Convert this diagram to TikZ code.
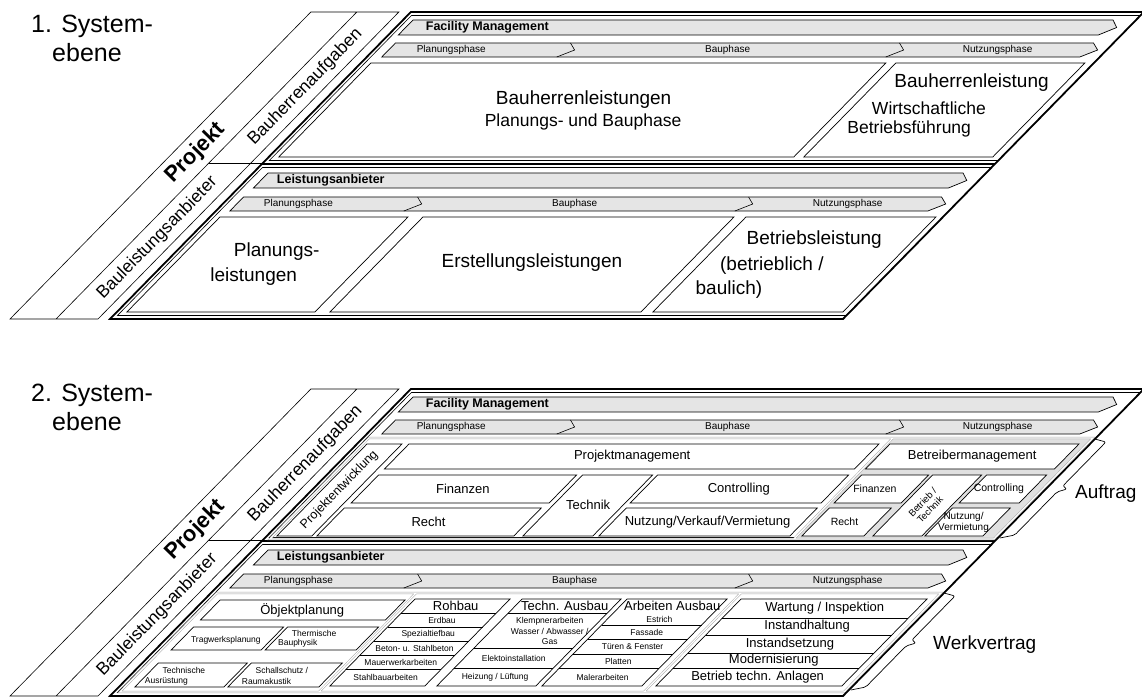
\documentclass[tikz,border=0pt]{standalone}
\usepackage{fontspec}
\setmainfont{Liberation Sans}
\usetikzlibrary{positioning}

\begin{document}
\begin{tikzpicture}[x=1pt, y=1pt, every node/.style={inner sep=0pt},
  frame/.style={line width=1.8pt},
  thin/.style={line width=0.6pt},
  band/.style={draw, fill=black!10, line width=0.7pt},
  cell/.style={draw, fill=white, line width=0.7pt},
  grp/.style={draw=black!35, double=white, double distance=1.2pt, line width=0.5pt},
  brace/.style={line width=0.7pt, rounded corners=2pt},
  ttl/.style={font=\fontsize{25}{29}\selectfont, align=left},
  sidebold/.style={font=\fontsize{22}{24}\selectfont\bfseries, rotate=45.6},
  side/.style={font=\fontsize{17.5}{20}\selectfont, rotate=45.6},
  head/.style={font=\fontsize{12.5}{14}\selectfont\bfseries},
  phase/.style={font=\fontsize{10}{12}\selectfont},
  big/.style={font=\fontsize{19}{22}\selectfont},
  med/.style={font=\fontsize{17.5}{20}\selectfont},
  lbl/.style={font=\fontsize{13}{15}\selectfont},
  small/.style={font=\fontsize{10.5}{11.5}\selectfont, align=center},
  tiny/.style={font=\fontsize{8.5}{10}\selectfont, align=center}]
\useasboundingbox (0,0) rectangle (1142,697);

\node[ttl, anchor=north west] (sys1) at (31,682) {1. System-\\\hspace*{21pt}ebene};
\node[ttl, anchor=north west] (sys2) at (31,313) {2. System-\\\hspace*{21pt}ebene};

% common frame of both levels
\foreach \p/\oy in {1/378, 2/1} {
\begin{scope}[shift={(0,\oy)}, xslant=0.98]
  \draw[thin] (10,0) rectangle (56,307) (56,0) rectangle (98,307);
  \draw[thin] (56,156) -- (110,156);
  \draw[thin] (114,158.5) rectangle (843,303.5) (114,3.5) rectangle (843,151.5);
  \draw[frame] (110,0) rectangle (843,307);
  \draw[frame] (110,155) -- (843,155);
  \draw[band] (120,284) -- (820,284) -- (831,291.5) -- (820,299) -- (120,299) -- cycle;
  \draw[band] (125,262) -- (823,262) -- (834,269) -- (823,276) -- (125,276) -- cycle;
  \draw[band] (125,131) -- (820,131) -- (831,138.5) -- (820,146) -- (125,146) -- cycle;
  \draw[band] (124,108) -- (822,108) -- (833,115) -- (822,122) -- (124,122) -- cycle;
  \draw[thin] (300,276) -- (311,269) -- (300,262) (629,276) -- (640,269) -- (629,262);
  \draw[thin] (298,122) -- (309,115) -- (298,108) (629,122) -- (640,115) -- (629,108);
  \node[sidebold] (proj\p) at (33,166) {Projekt};
  \node[side] (bha\p) at (78,232) {Bauherrenaufgaben};
  \node[side] (bla\p) at (78,81) {Bauleistungsanbieter};
  \node[head, anchor=west] (fm\p) at (140,291.5) {Facility Management};
  \node[phase, anchor=west] (pp\p) at (153,269) {Planungsphase};
  \node[phase] (bp\p) at (464,269) {Bauphase};
  \node[phase] (np\p) at (734,269) {Nutzungsphase};
  \node[head, anchor=west] (la\p) at (141,138.5) {Leistungsanbieter};
  \node[phase, anchor=west] (pq\p) at (151,115) {Planungsphase};
  \node[phase] (bq\p) at (462,115) {Bauphase};
  \node[phase] (nq\p) at (735,115) {Nutzungsphase};
\end{scope}
}

% 1. Systemebene
\begin{scope}[shift={(0,378)}, xslant=0.98]
  \draw[cell] (120,162) rectangle (635,256) (645,162) rectangle (834,256);
  \node[big] (bhl) at (369,219) {Bauherrenleistungen};
  \node[med] (bhlp) at (390,197) {Planungs- und Bauphase};
  \node[big, anchor=west] (bhr) at (663,236) {Bauherrenleistung};
  \node[med, anchor=west] (wirt) at (665,211) {Wirtschaftliche};
  \node[med, anchor=west] (bfue) at (661,190) {Betriebsführung};
  \draw[cell] (120,7) rectangle (308,102) (323,7) rectangle (634,102) (646,7) rectangle (836,102);
  \node[big, anchor=west] (pl1) at (168,67) {Planungs-};
  \node[big, anchor=west] (pl2) at (169,42) {leistungen};
  \node[big] (erst) at (477,56) {Erstellungsleistungen};
  \node[big, anchor=west] (bl1) at (669,79) {Betriebsleistung};
  \node[big, anchor=west] (bl2) at (668,53) {(betrieblich /};
  \node[big, anchor=west] (bl3) at (667,29) {baulich)};
\end{scope}

% 2. Systemebene
\begin{scope}[shift={(0,1)}, xslant=0.98]
  % Auftrag
  \fill[black!12] (641,157) rectangle (839,258);
  \draw[grp] (116,157) rectangle (840,258) (640,157) -- (640,258);
  \draw[cell] (120,160) rectangle (155,252);
  \draw[cell] (162,227) rectangle (632,252);
  \draw[cell] (162,193) rectangle (360,221) (160,160) rectangle (357,188);
  \draw[cell] (366,160) rectangle (436,221);
  \draw[cell] (441,193) rectangle (632,221) (442,160) rectangle (633,188);
  \node[lbl, rotate=45.6, font=\fontsize{12.5}{14}\selectfont] (pe) at (137.5,206) {Projektentwicklung};
  \node[lbl] (pm) at (397,240) {Projektmanagement};
  \node[lbl] (fin) at (260,207) {Finanzen};
  \node[lbl] (recht) at (258,174) {Recht};
  \node[lbl] (tech) at (401,191) {Technik};
  \node[lbl] (ctrl) at (536,207) {Controlling};
  \node[lbl] (nvv) at (537,174) {Nutzung/Verkauf/Vermietung};
  \draw[cell] (643,227) rectangle (832,252);
  \draw[cell] (645,193) rectangle (712,221) (645,160) rectangle (707,188);
  \draw[cell] (716,160) rectangle (765,221);
  \draw[cell] (770,193) rectangle (830,221) (768,160) rectangle (826,188);
  \node[lbl] (bm) at (737,240) {Betreibermanagement};
  \node[small] (fin2) at (672,207) {Finanzen};
  \node[small] (recht2) at (674,174) {Recht};
  \node[small, rotate=45.6, font=\fontsize{9.5}{10.5}\selectfont] (bt) at (740,190) {Betrieb /\\Technik};
  \node[small] (ctrl2) at (796,207) {Controlling};
  \node[small, font=\fontsize{10}{11}\selectfont] (nv2) at (793,174) {Nutzung/\\Vermietung};
  \draw[brace] (843,257) -- (857,254) -- (857,210) -- (864,207) -- (857,204) -- (857,161) -- (845,158);
  \node[big, anchor=west] (auftrag) at (877,202) {Auftrag};
  % Werkvertrag
  \draw[grp] (116,4) rectangle (840,103) (315,4) -- (315,103) (640,4) -- (640,103);
  \draw[cell] (126,76) rectangle (311,96);
  \draw[cell] (126,46) rectangle (216,69) (220,46) rectangle (311,69);
  \draw[cell] (126,9) rectangle (215,33) (219,9) rectangle (310,33);
  \node[lbl] (obj) at (218,86) {Öbjektplanung};
  \node[tiny] (trag) at (171,56) {Tragwerksplanung};
  \node[tiny, anchor=west] (therm1) at (230,63) {Thermische};
  \node[tiny, anchor=west] (therm2) at (226,53) {Bauphysik};
  \node[tiny, anchor=west] (tech1) at (137,26) {Technische};
  \node[tiny, anchor=west] (tech2) at (130,15) {Ausrüstung};
  \node[tiny, anchor=west] (schall1) at (230,26) {Schallschutz /};
  \node[tiny, anchor=west] (schall2) at (227,15) {Raumakustik};
  \draw[cell] (320,10) rectangle (415,97);
  \draw[thin] (320,83) -- (415,83) (320,69) -- (415,69) (320,55) -- (415,55) (320,41) -- (415,41) (320,27) -- (415,27);
  \node[lbl] (rohbau) at (367.5,90) {Rohbau};
  \node[tiny] (erd) at (367.5,76) {Erdbau};
  \node[tiny] (spez) at (367.5,62) {Spezialtiefbau};
  \node[tiny] (beton) at (367.5,48) {Beton- u. Stahlbeton};
  \node[tiny] (mauer) at (367.5,34) {Mauerwerkarbeiten};
  \node[tiny] (stahl) at (367.5,18.5) {Stahlbauarbeiten};
  \draw[cell] (427,10) rectangle (526,97);
  \draw[thin] (427,83) -- (526,83) (427,48) -- (526,48) (427,28) -- (526,28);
  \node[lbl] (tausbau) at (476.5,90) {Techn. Ausbau};
  \node[tiny, font=\fontsize{8.5}{10.5}\selectfont] (klemp) at (486,65) {Klempnerarbeiten\\Wasser / Abwasser /\\Gas};
  \node[tiny] (elek) at (476.5,38) {Elektoinstallation};
  \node[tiny] (heiz) at (476.5,19) {Heizung / Lüftung};
  \draw[cell] (532,10) rectangle (632,97);
  \draw[thin] (532,71) -- (632,71) (532,57) -- (632,57) (532,42) -- (632,42) (532,28) -- (632,28);
  \node[lbl] (aausbau) at (584,90) {Arbeiten Ausbau};
  \node[tiny] (estr) at (584,77) {Estrich};
  \node[tiny] (fass) at (584,64) {Fassade};
  \node[tiny] (tuer) at (584,49.5) {Türen \& Fenster};
  \node[tiny] (platt) at (584,35) {Platten};
  \node[tiny] (maler) at (584,19) {Malerarbeiten};
  \draw[cell] (646,10) rectangle (832,97);
  \draw[thin] (646,78) -- (832,78) (646,61) -- (832,61) (646,43) -- (832,43) (646,28) -- (832,28);
  \node[lbl] (wart) at (739,87.5) {Wartung / Inspektion};
  \node[lbl] (ihalt) at (739,69.5) {Instandhaltung};
  \node[lbl] (isetz) at (739,52) {Instandsetzung};
  \node[lbl] (modern) at (739,35.5) {Modernisierung};
  \node[lbl] (btech) at (739,19) {Betrieb techn. Anlagen};
  \draw[brace] (843,103) -- (857,100) -- (857,56) -- (864,53) -- (857,50) -- (857,9) -- (845,6);
  \node[big, anchor=west] (werk) at (883,51) {Werkvertrag};
\end{scope}
\end{tikzpicture}
\end{document}
